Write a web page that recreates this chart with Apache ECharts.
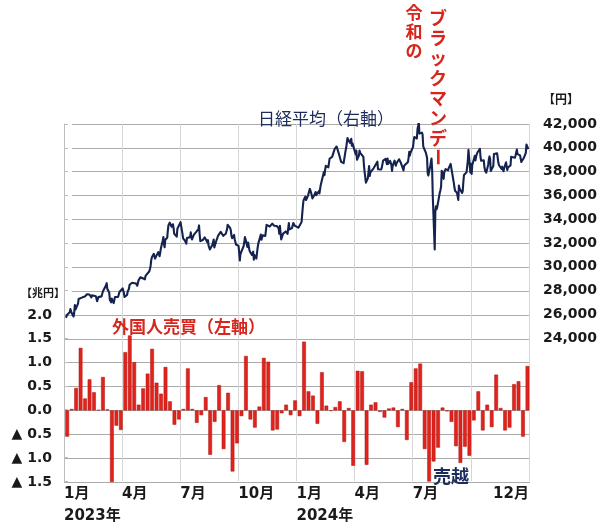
<!DOCTYPE html>
<html><head><meta charset="utf-8">
<script src="https://cdn.jsdelivr.net/npm/echarts@6/dist/echarts.min.js"></script>
<style>html,body{margin:0;padding:0;background:#fff}#c{width:600px;height:527px}</style>
</head><body><div id="c"></div>
<script>
// ---- data ----
const quarterLabels = ['1月','4月','7月','10月','1月','4月','7月',''];
const yearLabels = {0:'2023年', 4:'2024年'};
const endLabel = '12月';
const flowFirstWeek = '2023-01-06';
// 外国人売買 (兆円, weekly)
const flows = [
-0.55, 0.03, 0.47, 1.31, 0.25, 0.65, 0.38, 0.01, 0.70, 0.02,
-1.50,-0.32,-0.41, 1.22, 1.57, 1.01, 0.12, 0.46, 0.77, 1.29,
 0.58, 0.35, 0.91, 0.19,-0.30,-0.19, 0.03, 0.88, 0.03,-0.26,
-0.10, 0.28,-0.93,-0.24, 0.53,-0.81, 0.37,-1.28,-0.69,-0.12,
 1.14,-0.19,-0.36, 0.08, 1.10, 1.02,-0.42,-0.40,-0.06, 0.12,
-0.10, 0.21,-0.12, 1.44, 0.40, 0.31,-0.28, 0.80, 0.10,-0.01,
 0.07, 0.19,-0.66, 0.05,-1.16, 0.83, 0.82,-1.14, 0.12, 0.17,
-0.03,-0.15, 0.04, 0.06,-0.35, 0.03,-0.62, 0.59, 0.88, 0.98,
-0.81,-1.49,-1.07,-0.78, 0.06,-0.02,-0.24,-0.75,-1.10,-0.76,
-0.95,-0.21, 0.40,-0.42, 0.12,-0.35, 0.75, 0.05,-0.42,-0.36,
 0.55, 0.61,-0.55, 0.93
];
// 日経平均 (円, daily close)
const nikkeiDaily = [
['2023-01-04',25717],['2023-01-05',25821],['2023-01-06',25974],['2023-01-10',26176],['2023-01-11',26447],['2023-01-12',26449],['2023-01-13',26120],['2023-01-16',25822],['2023-01-17',26138],['2023-01-18',26792],['2023-01-19',26406],['2023-01-20',26554],['2023-01-23',26907],['2023-01-24',27300],['2023-01-25',27396],['2023-01-26',27363],['2023-01-27',27383],['2023-01-30',27433],['2023-01-31',27327],
['2023-02-01',27346],['2023-02-02',27402],['2023-02-03',27510],['2023-02-06',27694],['2023-02-07',27686],['2023-02-08',27607],['2023-02-09',27585],['2023-02-10',27671],['2023-02-13',27427],['2023-02-14',27602],['2023-02-15',27501],['2023-02-16',27696],['2023-02-17',27513],['2023-02-20',27531],['2023-02-21',27473],['2023-02-22',27104],['2023-02-24',27453],['2023-02-27',27423],['2023-02-28',27445],
['2023-03-01',27516],['2023-03-02',27498],['2023-03-03',27927],['2023-03-06',28237],['2023-03-07',28309],['2023-03-08',28444],['2023-03-09',28623],['2023-03-10',28143],['2023-03-13',27832],['2023-03-14',27222],['2023-03-15',27229],['2023-03-16',27010],['2023-03-17',27333],['2023-03-20',26945],['2023-03-22',27466],['2023-03-23',27419],['2023-03-24',27385],['2023-03-27',27476],['2023-03-28',27518],['2023-03-29',27883],['2023-03-30',27782],['2023-03-31',28041],
['2023-04-03',28188],['2023-04-04',28287],['2023-04-05',27813],['2023-04-06',27472],['2023-04-07',27518],['2023-04-10',27633],['2023-04-11',27923],['2023-04-12',28082],['2023-04-13',28156],['2023-04-14',28493],['2023-04-17',28514],['2023-04-18',28658],['2023-04-19',28606],['2023-04-20',28657],['2023-04-21',28564],['2023-04-24',28593],['2023-04-25',28620],['2023-04-26',28416],['2023-04-27',28457],['2023-04-28',28856],
['2023-05-01',29123],['2023-05-02',29157],['2023-05-08',28950],['2023-05-09',29242],['2023-05-10',29122],['2023-05-11',29126],['2023-05-12',29388],['2023-05-15',29626],['2023-05-16',29842],['2023-05-17',30093],['2023-05-18',30573],['2023-05-19',30808],['2023-05-22',31086],['2023-05-23',30957],['2023-05-24',30682],['2023-05-25',30801],['2023-05-26',30916],['2023-05-29',31233],['2023-05-30',31328],['2023-05-31',30887],
['2023-06-01',31148],['2023-06-02',31524],['2023-06-05',32217],['2023-06-06',32506],['2023-06-07',31913],['2023-06-08',31641],['2023-06-09',32265],['2023-06-12',32434],['2023-06-13',33018],['2023-06-14',33502],['2023-06-15',33485],['2023-06-16',33706],['2023-06-19',33370],['2023-06-20',33388],['2023-06-21',33575],['2023-06-22',33264],['2023-06-23',32781],['2023-06-26',32698],['2023-06-27',32538],['2023-06-28',33193],['2023-06-29',33234],['2023-06-30',33189],
['2023-07-03',33753],['2023-07-04',33422],['2023-07-05',33338],['2023-07-06',32773],['2023-07-07',32388],['2023-07-10',32189],['2023-07-11',32203],['2023-07-12',31943],['2023-07-13',32419],['2023-07-14',32391],['2023-07-18',32493],['2023-07-19',32896],['2023-07-20',32490],['2023-07-21',32304],['2023-07-24',32700],['2023-07-25',32682],['2023-07-26',32668],['2023-07-27',32891],['2023-07-28',32759],['2023-07-31',33172],
['2023-08-01',33476],['2023-08-02',32707],['2023-08-03',32159],['2023-08-04',32192],['2023-08-07',32254],['2023-08-08',32377],['2023-08-09',32204],['2023-08-10',32473],['2023-08-14',32059],['2023-08-15',32238],['2023-08-16',31766],['2023-08-17',31626],['2023-08-18',31451],['2023-08-21',31566],['2023-08-22',31857],['2023-08-23',32010],['2023-08-24',32287],['2023-08-25',31624],['2023-08-28',32169],['2023-08-29',32227],['2023-08-30',32333],['2023-08-31',32619],
['2023-09-01',32710],['2023-09-04',32939],['2023-09-05',33036],['2023-09-06',32991],['2023-09-07',32991],['2023-09-08',32606],['2023-09-11',32467],['2023-09-12',32776],['2023-09-13',32706],['2023-09-14',33168],['2023-09-15',33533],['2023-09-19',33242],['2023-09-20',33023],['2023-09-21',32571],['2023-09-22',32402],['2023-09-25',32678],['2023-09-26',32315],['2023-09-27',32371],['2023-09-28',31872],['2023-09-29',31857],
['2023-10-02',31759],['2023-10-03',31237],['2023-10-04',30526],['2023-10-05',31075],['2023-10-06',30994],['2023-10-10',31746],['2023-10-11',32040],['2023-10-12',32494],['2023-10-13',32315],['2023-10-16',31659],['2023-10-17',32040],['2023-10-18',32042],['2023-10-19',31430],['2023-10-20',31259],['2023-10-23',30999],['2023-10-24',31062],['2023-10-25',31269],['2023-10-26',30601],['2023-10-27',30991],['2023-10-30',30697],['2023-10-31',30859],
['2023-11-01',31601],['2023-11-02',31950],['2023-11-06',32708],['2023-11-07',32272],['2023-11-08',32166],['2023-11-09',32646],['2023-11-10',32568],['2023-11-13',32585],['2023-11-14',32695],['2023-11-15',33519],['2023-11-16',33424],['2023-11-17',33585],['2023-11-20',33388],['2023-11-21',33354],['2023-11-22',33451],['2023-11-24',33625],['2023-11-27',33447],['2023-11-28',33408],['2023-11-29',33321],['2023-11-30',33486],
['2023-12-01',33431],['2023-12-04',33231],['2023-12-05',32775],['2023-12-06',33445],['2023-12-07',32858],['2023-12-08',32307],['2023-12-11',32791],['2023-12-12',32843],['2023-12-13',32926],['2023-12-14',32686],['2023-12-15',32970],['2023-12-18',32758],['2023-12-19',33219],['2023-12-20',33675],['2023-12-21',33141],['2023-12-22',33169],['2023-12-25',33254],['2023-12-26',33305],['2023-12-27',33681],['2023-12-28',33540],['2023-12-29',33464],
['2024-01-04',33288],['2024-01-05',33377],['2024-01-09',33763],['2024-01-10',34441],['2024-01-11',35049],['2024-01-12',35577],['2024-01-15',35901],['2024-01-16',35619],['2024-01-17',35477],['2024-01-18',35466],['2024-01-19',35963],['2024-01-22',36546],['2024-01-23',36517],['2024-01-24',36226],['2024-01-25',36236],['2024-01-26',35751],['2024-01-29',36026],['2024-01-30',36065],['2024-01-31',36287],
['2024-02-01',36011],['2024-02-02',36158],['2024-02-05',36354],['2024-02-06',36160],['2024-02-07',36119],['2024-02-08',36863],['2024-02-09',36897],['2024-02-13',37963],['2024-02-14',37703],['2024-02-15',38157],['2024-02-16',38487],['2024-02-19',38470],['2024-02-20',38363],['2024-02-21',38262],['2024-02-22',39098],['2024-02-26',39233],['2024-02-27',39239],['2024-02-28',39208],['2024-02-29',39166],
['2024-03-01',39910],['2024-03-04',40109],['2024-03-05',40097],['2024-03-06',40090],['2024-03-07',39598],['2024-03-08',39688],['2024-03-11',38820],['2024-03-12',38797],['2024-03-13',38695],['2024-03-14',38807],['2024-03-15',38707],['2024-03-18',39740],['2024-03-19',40003],['2024-03-21',40815],['2024-03-22',40888],['2024-03-25',40414],['2024-03-26',40398],['2024-03-27',40762],['2024-03-28',40168],['2024-03-29',40369],
['2024-04-01',39803],['2024-04-02',39838],['2024-04-03',39451],['2024-04-04',39773],['2024-04-05',38992],['2024-04-08',39347],['2024-04-09',39773],['2024-04-10',39581],['2024-04-11',39442],['2024-04-12',39523],['2024-04-15',39233],['2024-04-16',38471],['2024-04-17',37961],['2024-04-18',38079],['2024-04-19',37068],['2024-04-22',37438],['2024-04-23',37552],['2024-04-24',38460],['2024-04-25',37628],['2024-04-26',37934],
['2024-05-01',38274],['2024-05-02',38236],['2024-05-07',38835],['2024-05-08',38202],['2024-05-09',38073],['2024-05-10',38229],['2024-05-13',38179],['2024-05-14',38356],['2024-05-15',38385],['2024-05-16',38920],['2024-05-17',38787],['2024-05-20',39069],['2024-05-21',38946],['2024-05-22',38617],['2024-05-23',39103],['2024-05-24',38646],['2024-05-27',38900],['2024-05-28',38855],['2024-05-29',38556],['2024-05-30',38054],['2024-05-31',38487],
['2024-06-03',38923],['2024-06-04',38837],['2024-06-05',38490],['2024-06-06',38703],['2024-06-07',38683],['2024-06-10',39038],['2024-06-11',39134],['2024-06-12',38876],['2024-06-13',38720],['2024-06-14',38814],['2024-06-17',38102],['2024-06-18',38482],['2024-06-19',38570],['2024-06-20',38633],['2024-06-21',38596],['2024-06-24',38804],['2024-06-25',39173],['2024-06-26',39667],['2024-06-27',39341],['2024-06-28',39583],
['2024-07-01',39631],['2024-07-02',40074],['2024-07-03',40580],['2024-07-04',40913],['2024-07-05',40912],['2024-07-08',40780],['2024-07-09',41580],['2024-07-10',41831],['2024-07-11',42224],['2024-07-12',41190],['2024-07-16',41275],['2024-07-17',41097],['2024-07-18',40126],['2024-07-19',40063],['2024-07-22',39599],['2024-07-23',39594],['2024-07-24',39155],['2024-07-25',37869],['2024-07-26',37667],['2024-07-29',38468],['2024-07-30',38526],['2024-07-31',39102],
['2024-08-01',38126],['2024-08-02',35910],['2024-08-05',31458],['2024-08-06',34675],['2024-08-07',35090],['2024-08-08',34831],['2024-08-09',35025],['2024-08-13',36233],['2024-08-14',36442],['2024-08-15',36727],['2024-08-16',38063],['2024-08-19',37389],['2024-08-20',37964],['2024-08-21',37951],['2024-08-22',38211],['2024-08-23',38364],['2024-08-26',38110],['2024-08-27',38288],['2024-08-28',38371],['2024-08-29',38362],['2024-08-30',38648],
['2024-09-02',38700],['2024-09-03',38686],['2024-09-04',37047],['2024-09-05',36657],['2024-09-06',36391],['2024-09-09',36215],['2024-09-10',36159],['2024-09-11',35619],['2024-09-12',36833],['2024-09-13',36581],['2024-09-17',36203],['2024-09-18',36380],['2024-09-19',37155],['2024-09-20',37723],['2024-09-24',37940],['2024-09-25',37870],['2024-09-26',38925],['2024-09-27',39829],['2024-09-30',37919],
['2024-10-01',38651],['2024-10-02',37808],['2024-10-03',38552],['2024-10-04',38635],['2024-10-07',39332],['2024-10-08',38937],['2024-10-09',39277],['2024-10-10',39380],['2024-10-11',39605],['2024-10-15',39910],['2024-10-16',39180],['2024-10-17',38911],['2024-10-18',38981],['2024-10-21',38954],['2024-10-22',38411],['2024-10-23',38104],['2024-10-24',38143],['2024-10-25',37913],['2024-10-28',38605],['2024-10-29',39027],['2024-10-30',39277],['2024-10-31',39081],
['2024-11-01',38053],['2024-11-05',38474],['2024-11-06',39480],['2024-11-07',39381],['2024-11-08',39500],['2024-11-11',39533],['2024-11-12',39376],['2024-11-13',38721],['2024-11-14',38535],['2024-11-15',38642],['2024-11-18',38220],['2024-11-19',38414],['2024-11-20',38352],['2024-11-21',38026],['2024-11-22',38283],['2024-11-25',38780],['2024-11-26',38442],['2024-11-27',38134],['2024-11-28',38349],['2024-11-29',38208],
['2024-12-02',38513],['2024-12-03',39248],['2024-12-04',39276],['2024-12-05',39395],['2024-12-06',39091],['2024-12-09',39160],['2024-12-10',39367],['2024-12-11',39372],['2024-12-12',39849],['2024-12-13',39470],['2024-12-16',39457],['2024-12-17',39364],['2024-12-18',39081],['2024-12-19',38813],['2024-12-20',38701],['2024-12-23',39161],['2024-12-24',39037],['2024-12-25',39130],['2024-12-26',39568],['2024-12-27',40281],['2024-12-30',39894]
];

// ---- helpers ----
function dayOf(s){const p=s.split('-').map(Number);return (Date.UTC(p[0],p[1]-1,p[2])-Date.UTC(2023,0,1))/864e5;}
const DAYS = 730, Q = DAYS/8;
const firstDay = dayOf(flowFirstWeek);
const barData = flows.map((v,i)=>[firstDay+7*i, v]);
const lineData = nikkeiDaily.map(d=>[dayOf(d[0]), d[1]]);

const NUM = 'DejaVu Sans, "Noto Sans CJK JP", sans-serif';
const JP = '"Noto Sans CJK JP", sans-serif';
const RED = '#d7261e', NAVY = '#1c2c5c';
const L = 64, R = 70, T = 124, B = 45, H = 527 - T - B;
const midY = T + H*8/15;
const xLabelStyle = {fontFamily:NUM, fontSize:15, fontWeight:'bold', color:'#1a1a1a', margin:2, lineHeight:22};

const chart = echarts.init(document.getElementById('c'), null, {renderer:'canvas'});
chart.setOption({
  animation:false,
  backgroundColor:'#fff',
  grid:[
    {left:L, right:R, top:T, bottom:B},
    {left:L, right:R, top:midY, bottom:B},
    {left:72, right:R, top:T, height:H*8/15}
  ],
  xAxis:[
    {gridIndex:0, type:'value', position:'bottom', min:0, max:DAYS, interval:Q,
     axisLine:{show:false}, axisTick:{show:false},
     splitLine:{show:true, showMinLine:false, lineStyle:{color:'#d6d6d6', width:1}},
     axisLabel:Object.assign({show:true, align:'left', showMaxLabel:true,
       formatter:v=>{const i=Math.round(v/Q); const q=quarterLabels[i]||''; return yearLabels[i]?q+'\n'+yearLabels[i]:q;}}, xLabelStyle)},
    {gridIndex:0, type:'value', position:'bottom', offset:0, min:0, max:DAYS, interval:DAYS,
     axisLine:{show:false}, axisTick:{show:false}, splitLine:{show:false},
     axisLabel:Object.assign({show:true, align:'right', showMinLabel:false, showMaxLabel:true,
       formatter:v=>v>=DAYS?endLabel:''}, xLabelStyle)},
    {gridIndex:1, type:'value', min:0, max:DAYS, show:false},
    {gridIndex:2, type:'value', min:0, max:DAYS, show:false}
  ],
  yAxis:[
    {gridIndex:0, type:'value', position:'right', min:12000, max:42000, interval:2000,
     axisLine:{show:true, lineStyle:{color:'#bdbdbd'}},
     axisTick:{show:true, length:4, lineStyle:{color:'#bdbdbd'}},
     splitLine:{show:false},
     axisLabel:{margin:14, fontFamily:NUM, fontSize:14, fontWeight:'bold', color:'#1a1a1a',
       formatter:v=>v>=24000?v.toLocaleString('en-US'):''}},
    {gridIndex:1, type:'value', position:'left', min:-1.5, max:2.0, interval:0.5,
     axisLine:{show:true, lineStyle:{color:'#bdbdbd'}}, axisTick:{show:false},
     splitLine:{show:true, lineStyle:{color:'#ababab', width:1.2}},
     axisLabel:{margin:12, fontFamily:NUM, fontSize:14, fontWeight:'bold', color:'#1a1a1a',
       formatter:v=>v<0?'▲ '+Math.abs(v).toFixed(1):v.toFixed(1)}},
    {gridIndex:2, type:'value', min:0, max:8, interval:1,
     axisLine:{show:false}, axisTick:{show:false}, axisLabel:{show:false},
     splitLine:{show:true, lineStyle:{color:'#ababab', width:1.2}}}
  ],
  series:[
    {type:'bar', xAxisIndex:2, yAxisIndex:1, data:barData, barWidth:3.7,
     itemStyle:{color:'#e3221c', borderColor:'#a8140f', borderWidth:0.5}},
    {type:'line', xAxisIndex:0, yAxisIndex:0, data:lineData, showSymbol:false, z:5,
     lineStyle:{color:'#14224f', width:2.1, join:'round'}}
  ],
  graphic:[
    {type:'text', left:258, top:110, z:10, style:{text:'日経平均（右軸）', font:'17px '+JP, fill:NAVY}},
    {type:'text', left:112, top:318, z:10, style:{text:'外国人売買（左軸）', font:'bold 17px '+JP, fill:RED}},
    {type:'text', x:414, y:3, z:10, style:{text:'令\n和\nの', font:'bold 17px '+JP, fill:RED, align:'center', verticalAlign:'top', lineHeight:19}},
    {type:'text', x:438, y:8, z:10, style:{text:'ブ\nラ\nッ\nク\nマ\nン\nデ', font:'bold 18px '+JP, fill:RED, align:'center', verticalAlign:'top', lineHeight:20}},
    {type:'text', x:438, y:157, z:10, rotation:-Math.PI/2, style:{text:'ー', font:'bold 18px '+JP, fill:RED, align:'center', verticalAlign:'middle'}},
    {type:'text', left:433, top:467, z:10, style:{text:'売越', font:'bold 18px '+JP, fill:NAVY}},
    {type:'text', left:21, top:287, z:10, style:{text:'【兆円】', font:'bold 11px '+JP, fill:'#1a1a1a'}},
    {type:'text', left:543, top:93, z:10, style:{text:'【円】', font:'bold 12px '+JP, fill:'#1a1a1a'}}
  ]
});
</script></body></html>
